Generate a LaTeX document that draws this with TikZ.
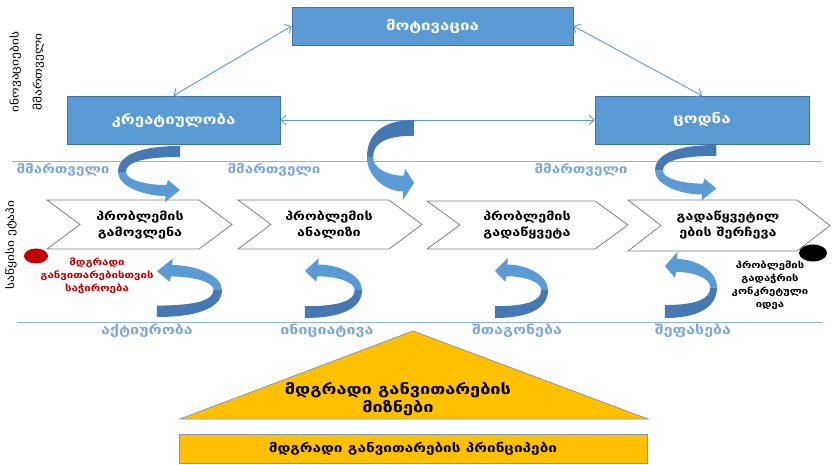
\documentclass[tikz,border=0pt]{standalone}
\usepackage{fontspec}
\setmainfont[FakeStretch=1.25]{DejaVu Sans}
\usetikzlibrary{arrows.meta}
\definecolor{boxblue}{HTML}{5B9BD5}
\definecolor{boxedge}{HTML}{41719C}
\definecolor{darkrib}{HTML}{4679B2}
\definecolor{lineblue}{HTML}{8EB4E3}
\definecolor{labblue}{HTML}{7DA7D9}
\definecolor{goldfill}{HTML}{FFC000}
\definecolor{goldedge}{HTML}{8497B0}
\definecolor{redtxt}{HTML}{C00000}
\definecolor{chevedge}{HTML}{7F7F7F}
\newcommand{\ribarrow}[1]{%
\begin{scope}[#1]
\fill[darkrib] (62,0) .. controls (20,0) and (0,10) .. (0,26) -- (8,26) .. controls (8,16) and (25,11) .. (62,11) -- cycle;
\fill[boxblue] (0,26) .. controls (0,40) and (25,50) .. (47.5,50) -- (47,56) -- (62,44) -- (50,34) -- (48.5,39) .. controls (28,39) and (8,34) .. (8,26) -- cycle;
\end{scope}}
\newcommand{\chevpath}[4]{% left, tip, top, bottom
\draw[chevline] (#1,#3) -- (#2-33,#3) -- (#2,{(#3+#4)/2}) -- (#2-33,#4) -- (#1,#4) -- (#1+33,{(#3+#4)/2}) -- cycle;}
\tikzset{
  topbox/.style={draw=boxedge, fill=boxblue, line width=0.6pt, text=white,
    font=\bfseries\fontsize{13.5}{15}\selectfont, inner sep=0pt},
  link/.style={draw=boxblue, line width=0.9pt,
    {Straight Barb[length=5pt,width=10pt]}-{Straight Barb[length=5pt,width=10pt]}},
  sepline/.style={draw=lineblue, line width=1pt},
  chevline/.style={draw=chevedge, fill=white, line width=0.8pt},
  chevtext/.style={align=center, font=\bfseries\fontsize{11.5}{16}\selectfont, text=black},
  bluelab/.style={text=labblue, font=\bfseries\fontsize{12.2}{14}\selectfont},
  bluelabb/.style={text=labblue, font=\bfseries\fontsize{12.8}{14}\selectfont},
  sidelab/.style={rotate=90, align=center, font=\fontsize{10.7}{23}\selectfont, text=black},
  smallred/.style={align=center, text=redtxt, font=\bfseries\fontsize{9.2}{13}\selectfont},
  smallblack/.style={align=center, text=black, font=\bfseries\fontsize{9}{13}\selectfont},
  goldtext/.style={align=center, text=black, font=\bfseries\fontsize{14.5}{18}\selectfont},
}
\begin{document}
\begin{tikzpicture}[x=1pt,y=-1pt]
\useasboundingbox (0,0) rectangle (839,465);
% separator lines
\draw[sepline] (12,162) -- (822,162);
\draw[sepline] (17,323) -- (822,323);
% top boxes
\node[topbox, minimum width=281pt, minimum height=38pt] (mot) at (432.5,26) {მოტივაცია};
\node[topbox, minimum width=213pt, minimum height=48pt] (kre) at (173.5,120) {კრეატიულობა};
\node[topbox, minimum width=214pt, minimum height=48pt] (tsod) at (702,120) {ცოდნა};
\draw[link] (kre.north) -- (mot.west);
\draw[link] (mot.east) -- (tsod.north);
\draw[link] (kre.east) -- (tsod.west);
% side labels
\node[sidelab] (innov) at (27,72) {ინოვაციების\\მმართველი};
\node[sidelab] (start) at (11,245) {საწყისი ეტაპი};
% manager labels
\node[bluelab] (m1) at (63,170) {მმართველი};
\node[bluelab] (m2) at (274,170) {მმართველი};
\node[bluelab] (m3) at (581,170) {მმართველი};
% chevrons
\chevpath{47}{232}{200}{249}
\chevpath{238}{422}{200}{249}
\chevpath{427}{628}{201}{249}
\chevpath{628}{830}{200}{251}
\node[chevtext] (c1) at (140,225) {პრობლემის\\გამოვლენა};
\node[chevtext] (c2) at (329,225) {პრობლემის\\ანალიზი};
\node[chevtext] (c3) at (527,225) {პრობლემის\\გადაწყვეტა};
\node[chevtext] (c4) at (728,225) {გადაწყვეტილ\\ების შერჩევა};
% curved arrows top
\ribarrow{shift={(118,146)}}
\ribarrow{shift={(367,120)}, xscale=0.76, yscale=1.43}
\ribarrow{shift={(655,145)}, xscale=0.99, yscale=0.99}
% curved arrows bottom
\ribarrow{shift={(222,317)}, xscale=-1.05, yscale=-1.04}
\ribarrow{shift={(362,318)}, xscale=-0.92, yscale=-1.07}
\ribarrow{shift={(548,318)}, xscale=-0.855, yscale=-1.07}
\ribarrow{shift={(717,318)}, xscale=-0.84, yscale=-1.18}
% dots and notes
\fill[redtxt] (36,256) ellipse (12 and 7.5);
\fill[black] (813,253) ellipse (14 and 8.5);
\node[smallred] (need) at (97,276) {მდგრადი\\განვითარებისთვის\\საჭიროება};
\node[smallblack] (idea) at (770,285) {პრობლემის\\გადაჭრის\\კონკრეტული\\იდეა};
% bottom labels
\node[bluelabb] (b1) at (147,331) {აქტიურობა};
\node[bluelabb] (b2) at (327,331) {ინიციატივა};
\node[bluelabb] (b3) at (517,331) {შთაგონება};
\node[bluelabb] (b4) at (693,331) {შეფასება};
% triangle and base
\draw[fill=goldfill, draw=goldedge, line width=0.8pt] (413,331) -- (648,419) -- (180,419) -- cycle;
\node[goldtext] (goals) at (398,399) {მდგრადი განვითარების\\მიზნები};
\node[draw=goldedge, fill=goldfill, line width=0.8pt, minimum width=468pt, minimum height=29pt,
  font=\bfseries\fontsize{12.3}{14}\selectfont, inner sep=0pt] (princ) at (413,448.5) {მდგრადი განვითარების პრინციპები};
\end{tikzpicture}
\end{document}
